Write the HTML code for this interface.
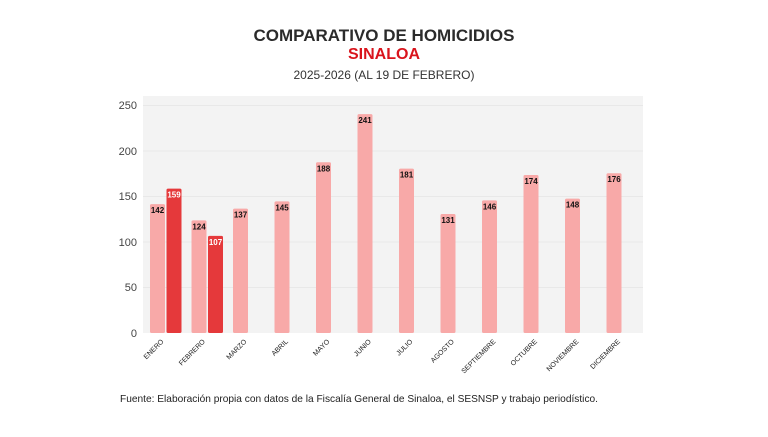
<!DOCTYPE html>
<html><head><meta charset="utf-8"><style>
body{margin:0;background:#fff;width:768px;height:432px;overflow:hidden;font-family:"Liberation Sans",sans-serif}
</style></head><body>
<svg width="768" height="432" xmlns="http://www.w3.org/2000/svg" font-family="Liberation Sans, sans-serif">
<text x="384" y="41" text-anchor="middle" font-size="17" font-weight="bold" fill="#2b2b2b">COMPARATIVO DE HOMICIDIOS</text>
<text x="384" y="59" text-anchor="middle" font-size="16" font-weight="bold" fill="#d9141c">SINALOA</text>
<text x="384" y="79" text-anchor="middle" font-size="12" fill="#333">2025-2026 (AL 19 DE FEBRERO)</text>
<rect x="143" y="96" width="500" height="237" fill="#f3f3f3"/>
<g stroke="#e8e8e8" stroke-width="1">
<line x1="143" x2="643" y1="105.5" y2="105.5"/><line x1="143" x2="643" y1="151" y2="151"/><line x1="143" x2="643" y1="196.5" y2="196.5"/><line x1="143" x2="643" y1="242" y2="242"/><line x1="143" x2="643" y1="287.5" y2="287.5"/></g>
<g font-size="11" fill="#444" text-anchor="end">
<text x="137" y="109">250</text><text x="137" y="155">200</text><text x="137" y="200">150</text><text x="137" y="246">100</text><text x="137" y="291">50</text><text x="137" y="337">0</text></g>
<g id="bars"></g>
<text x="120" y="402" font-size="10.5" fill="#222" textLength="478" lengthAdjust="spacingAndGlyphs">Fuente: Elaboración propia con datos de la Fiscalía General de Sinaloa, el SESNSP y trabajo periodístico.</text>
</svg>
<script>
var v=[142,124,137,145,188,241,181,131,146,174,148,176],v2=[159,107];
var m=["ENERO","FEBRERO","MARZO","ABRIL","MAYO","JUNIO","JULIO","AGOSTO","SEPTIEMBRE","OCTUBRE","NOVIEMBRE","DICIEMBRE"];
var s="",k=0.908;
for(var i=0;i<12;i++){var x=150+i*41.5,h=v[i]*k;
s+='<rect x="'+x+'" y="'+(333-h)+'" width="15" height="'+h+'" rx="1.5" fill="#f8a9a8"/>';
s+='<text x="'+(x+7.5)+'" y="'+(333-h+9)+'" text-anchor="middle" font-size="8" font-weight="bold" fill="#111">'+v[i]+'</text>';
if(i<2){var x2=x+16.5,h2=v2[i]*k;
s+='<rect x="'+x2+'" y="'+(333-h2)+'" width="15" height="'+h2+'" rx="1.5" fill="#e5393b"/>';
s+='<text x="'+(x2+7.5)+'" y="'+(333-h2+9)+'" text-anchor="middle" font-size="8" font-weight="bold" fill="#fff">'+v2[i]+'</text>';}
var ax=x+14,ay=342;
s+='<text transform="translate('+ax+','+ay+') rotate(-45)" text-anchor="end" font-size="7" fill="#222">'+m[i]+'</text>';}
document.getElementById("bars").innerHTML=s;
</script>
</body></html>
